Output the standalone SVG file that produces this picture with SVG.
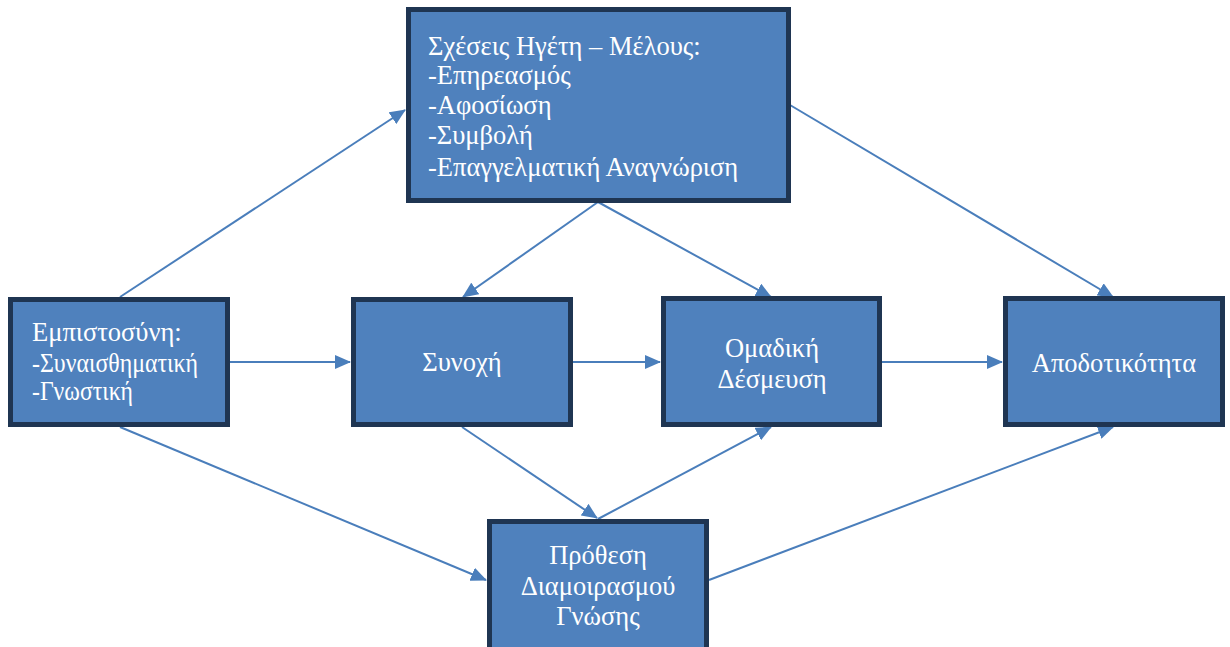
<svg xmlns="http://www.w3.org/2000/svg" width="1230" height="647" viewBox="0 0 1230 647">
<style>
.box{fill:#4f81bd;stroke:#1f3552;stroke-width:5}
.t{fill:#ffffff;font-family:"Liberation Serif","Times New Roman",serif;font-size:26.5px}
.c{text-anchor:middle}
.ln{stroke:#4a7ebb;stroke-width:2;fill:none;marker-end:url(#ah)}
</style>
<defs>
<marker id="ah" markerUnits="userSpaceOnUse" markerWidth="16" markerHeight="14" refX="15" refY="7" orient="auto">
<path d="M0,0 L16,7 L0,14 Z" fill="#4a7ebb"/>
</marker>
</defs>
<g id="connectors">
<line class="ln" x1="120" y1="297" x2="405" y2="110"/>
<line class="ln" x1="230" y1="362" x2="350" y2="362"/>
<line class="ln" x1="120" y1="427" x2="486" y2="580"/>
<line class="ln" x1="598" y1="202" x2="463" y2="297"/>
<line class="ln" x1="598" y1="202" x2="771" y2="297"/>
<line class="ln" x1="790" y1="105" x2="1113" y2="297"/>
<line class="ln" x1="573" y1="362" x2="660" y2="362"/>
<line class="ln" x1="462" y1="427" x2="597" y2="518"/>
<line class="ln" x1="598" y1="519" x2="771" y2="427"/>
<line class="ln" x1="882" y1="362" x2="1002" y2="362"/>
<line class="ln" x1="709" y1="580" x2="1113" y2="427"/>
</g>
<g id="n-leader">
<rect class="box" x="408.5" y="9.5" width="380" height="191"/>
<text class="t" x="428" y="55">Σχέσεις Ηγέτη – Μέλους:</text>
<text class="t" x="428" y="84">-Επηρεασμός</text>
<text class="t" x="428" y="114">-Αφοσίωση</text>
<text class="t" x="428" y="144">-Συμβολή</text>
<text class="t" x="428" y="176">-Επαγγελματική Αναγνώριση</text>
</g>
<g id="n-trust">
<rect class="box" x="10.5" y="299.5" width="217" height="125"/>
<text class="t" x="32" y="341">Εμπιστοσύνη:</text>
<text class="t" x="32" y="372" textLength="166" lengthAdjust="spacingAndGlyphs">-Συναισθηματική</text>
<text class="t" x="32" y="400" textLength="101" lengthAdjust="spacingAndGlyphs">-Γνωστική</text>
</g>
<g id="n-cohesion">
<rect class="box" x="353.5" y="299.5" width="217" height="125"/>
<text class="t c" x="462" y="371">Συνοχή</text>
</g>
<g id="n-commitment">
<rect class="box" x="663.5" y="298.5" width="216" height="126"/>
<text class="t c" x="772" y="357">Ομαδική</text>
<text class="t c" x="772" y="388">Δέσμευση</text>
</g>
<g id="n-performance">
<rect class="box" x="1005.5" y="298.5" width="217" height="126"/>
<text class="t c" x="1114" y="372">Αποδοτικότητα</text>
</g>
<g id="n-knowledge">
<rect class="box" x="489.5" y="521.5" width="217" height="135"/>
<text class="t c" x="598" y="564">Πρόθεση</text>
<text class="t c" x="598" y="595">Διαμοιρασμού</text>
<text class="t c" x="598" y="625">Γνώσης</text>
</g>
</svg>
